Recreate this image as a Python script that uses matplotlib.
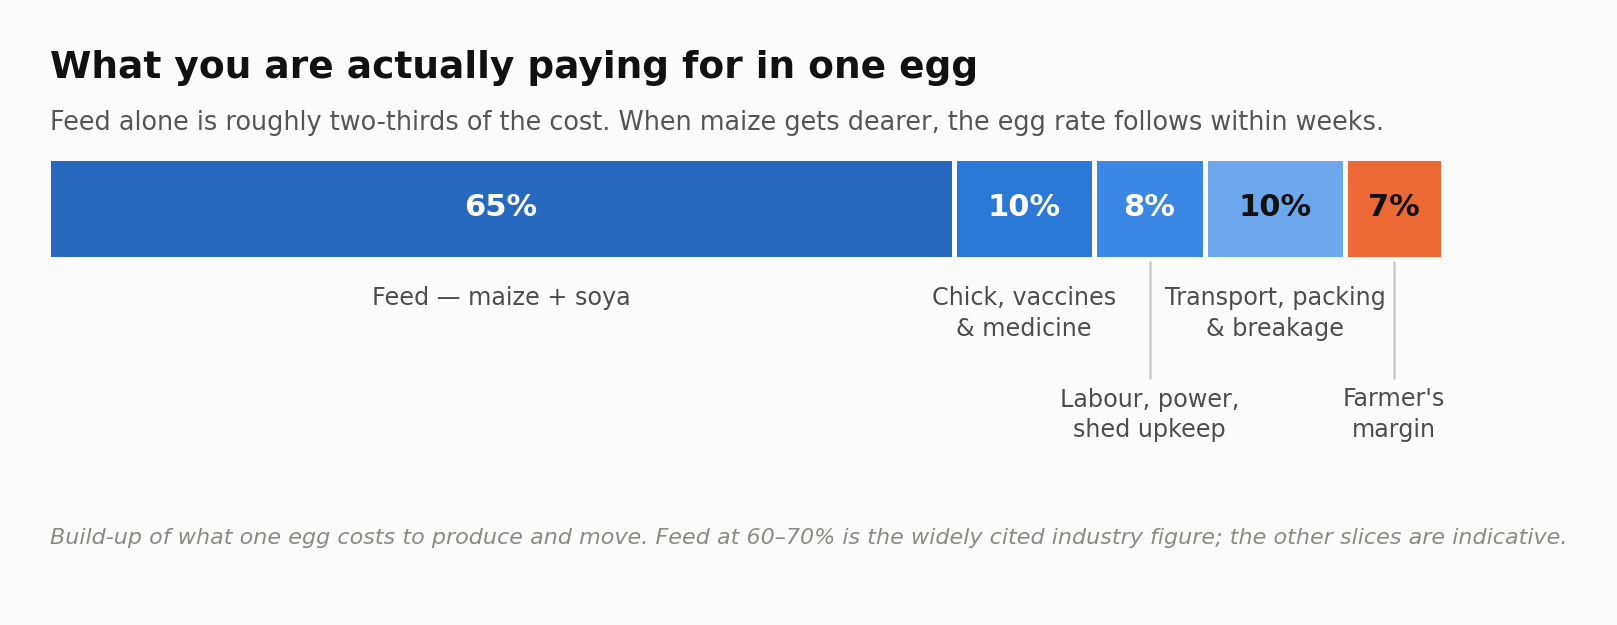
import matplotlib
matplotlib.use("Agg")
import matplotlib.pyplot as plt
import numpy as np

# cost shares of one egg, in percent
categories = ["Feed — maize + soya", "Chick, vaccines\n& medicine",
              "Labour, power,\nshed upkeep", "Transport, packing\n& breakage",
              "Farmer's\nmargin"]
shares = [65, 10, 8, 10, 7]
label_row = [0, 0, 1, 0, 1]   # 1 = dropped below with a leader line

colors = ["#2769BF", "#2A79D6", "#3A88E3", "#6CA7EC", "#EC6936"]
pct_colors = ["white", "white", "white", "#111111", "#111111"]
bg = "#FCFCFA"

title = "What you are actually paying for in one egg"
subtitle = ("Feed alone is roughly two-thirds of the cost. When maize gets dearer, "
            "the egg rate follows within weeks.")
note = ("Build-up of what one egg costs to produce and move. Feed at 60–70% is the "
        "widely cited industry figure; the other slices are indicative.")

W, H = 1617, 625
fig = plt.figure(figsize=(W / 100, H / 100), dpi=100, facecolor=bg)

fig.text(50 / W, 1 - 78 / H, title, fontsize=27, fontweight='bold',
         color="#111111", va='baseline', ha='left')
fig.text(50 / W, 1 - 130 / H, subtitle, fontsize=18.4, color="#555555",
         va='baseline', ha='left')
fig.text(50 / W, 1 - 544 / H, note, fontsize=16, style='italic',
         color="#8a8a86", va='baseline', ha='left')

# axes in pixel-like units: y grows downwards from the bar top
ax = fig.add_axes([47.5 / W, 1 - 457.5 / H, 1395 / W, 300 / H])
ax.set_xlim(0, sum(shares))
ax.set_ylim(300, 0)
ax.axis('off')
ax.set_facecolor(bg)

lefts = np.concatenate([[0], np.cumsum(shares)[:-1]])
ax.barh(50.5, shares, left=lefts, height=101, color=colors,
        edgecolor=bg, linewidth=3.6)

line_step = 31
for cat, v, l, row, pc in zip(categories, shares, lefts, label_row, pct_colors):
    cx = l + v / 2
    ax.text(cx, 58.5, f"{v}%", fontsize=22, fontweight='bold', color=pc,
            ha='center', va='baseline')
    if row == 0:
        y0 = 147.5
    else:
        ax.plot([cx, cx], [103.5, 221.5], color="#cccccc", lw=1.8,
                solid_capstyle='butt')
        y0 = 249
    for i, line in enumerate(cat.split("\n")):
        ax.text(cx, y0 + i * line_step, line, fontsize=17.2, color="#4d4d4d",
                ha='center', va='baseline')

fig.savefig("out.png", dpi=100, facecolor=bg)
